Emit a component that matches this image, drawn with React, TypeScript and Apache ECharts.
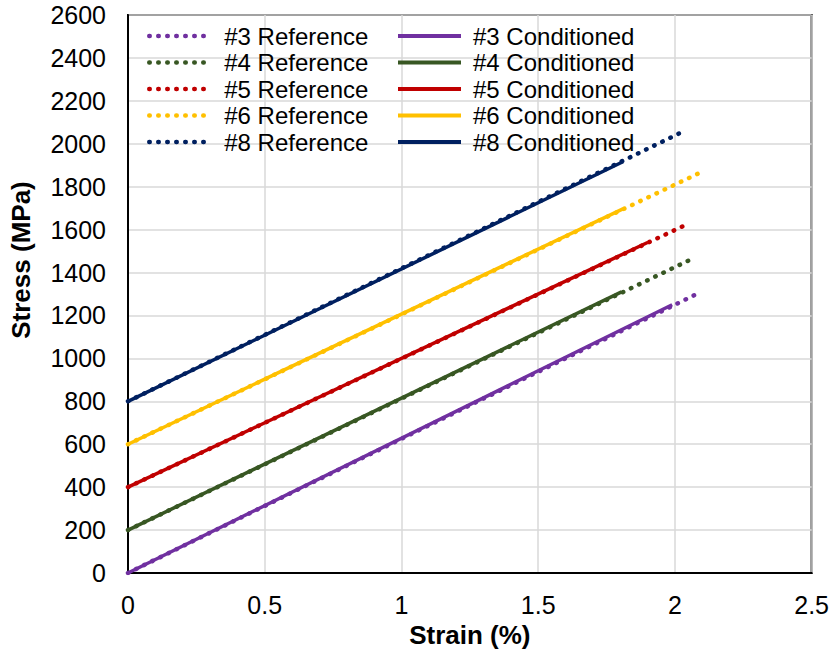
import React, { useEffect, useRef } from "react";
import * as echarts from "echarts";

const specimens = ["#3", "#4", "#5", "#6", "#8"];
const colors = ["#7030A0", "#385723", "#C00000", "#FFC000", "#002060"];
const startStress = [0, 200, 400, 600, 800];
const refEnd: [number, number][] = [
  [2.08, 1300],
  [2.065, 1465],
  [2.045, 1625],
  [2.1, 1870],
  [2.03, 2057],
];
const condEnd: [number, number][] = [
  [1.99, 1250],
  [1.805, 1310],
  [1.9, 1540],
  [1.81, 1697],
  [1.81, 1916],
];
const xTicks = [0, 0.5, 1, 1.5, 2, 2.5];
const yTicks = [0, 200, 400, 600, 800, 1000, 1200, 1400, 1600, 1800, 2000, 2200, 2400, 2600];

const FONT = "'Liberation Sans', Arial, sans-serif";

export default function App() {
  const ref = useRef<HTMLDivElement>(null);
  useEffect(() => {
    if (!ref.current) return;
    const chart = echarts.init(ref.current, undefined, { renderer: "svg" });
    const refSeries = specimens.map((s, i) => ({
      name: `${s} Reference`,
      type: "line",
      symbol: "none",
      z: 2,
      data: [
        [0, startStress[i]],
        refEnd[i],
      ],
      lineStyle: { color: colors[i], width: 4.5, type: [0.5, 8.5], cap: "round" },
      itemStyle: { color: colors[i] },
    }));
    const condSeries = specimens.map((s, i) => ({
      name: `${s} Conditioned`,
      type: "line",
      symbol: "none",
      z: 3,
      data: [
        [0, startStress[i]],
        condEnd[i],
      ],
      lineStyle: { color: colors[i], width: 3.5 },
      itemStyle: { color: colors[i] },
    }));
    const legendCommon = {
      orient: "vertical",
      top: 24,
      padding: 0,
      itemWidth: 63,
      itemHeight: 14,
      itemGap: 2.5,
      itemStyle: { opacity: 0 },
      textStyle: {
        fontFamily: FONT,
        fontSize: 24,
        lineHeight: 23,
        color: "#000",
        padding: [0, 0, 0, 7],
      },
    };
    chart.setOption({
      animation: false,
      backgroundColor: "#fff",
      textStyle: { fontFamily: FONT },
      grid: {
        left: 128,
        right: 19,
        top: 15,
        bottom: 80,
        show: true,
        borderColor: "#000",
        borderWidth: 2,
      },
      legend: [
        {
          ...legendCommon,
          left: 147,
          lineStyle: { width: 4.5, cap: "round" },
          data: refSeries.map((s) => s.name),
        },
        {
          ...legendCommon,
          left: 396,
          lineStyle: { width: 4 },
          data: condSeries.map((s) => s.name),
        },
      ],
      graphic: [
        {
          type: "text",
          x: 21,
          y: 260,
          rotation: Math.PI / 2,
          style: {
            text: "Stress (MPa)",
            fontFamily: FONT,
            fontSize: 26,
            fontWeight: "bold",
            fill: "#000",
            align: "center",
            verticalAlign: "middle",
          },
        },
      ],
      xAxis: {
        type: "value",
        min: xTicks[0],
        max: xTicks[xTicks.length - 1],
        interval: 0.5,
        name: "Strain (%)",
        nameLocation: "middle",
        nameGap: 43,
        nameTextStyle: { fontFamily: FONT, fontSize: 26, fontWeight: "bold", color: "#000" },
        axisLine: { show: true, lineStyle: { color: "#000", width: 2 } },
        axisTick: { show: false },
        axisLabel: { fontFamily: FONT, fontSize: 25, color: "#000", margin: 19 },
        splitLine: { show: true, lineStyle: { color: "#d9d9d9", width: 1.5 } },
      },
      yAxis: {
        type: "value",
        min: yTicks[0],
        max: yTicks[yTicks.length - 1],
        interval: 200,
        axisLine: { show: true, lineStyle: { color: "#000", width: 2 } },
        axisTick: { show: false },
        axisLabel: {
          fontFamily: FONT,
          fontSize: 25,
          color: "#000",
          margin: 22,
          formatter: (v: number) => String(v),
        },
        splitLine: { show: true, lineStyle: { color: "#d9d9d9", width: 1.5 } },
      },
      series: [...refSeries, ...condSeries],
    });
    return () => chart.dispose();
  }, []);
  return <div ref={ref} style={{ width: 832, height: 653, position: "absolute", left: 0, top: 0 }} />;
}
